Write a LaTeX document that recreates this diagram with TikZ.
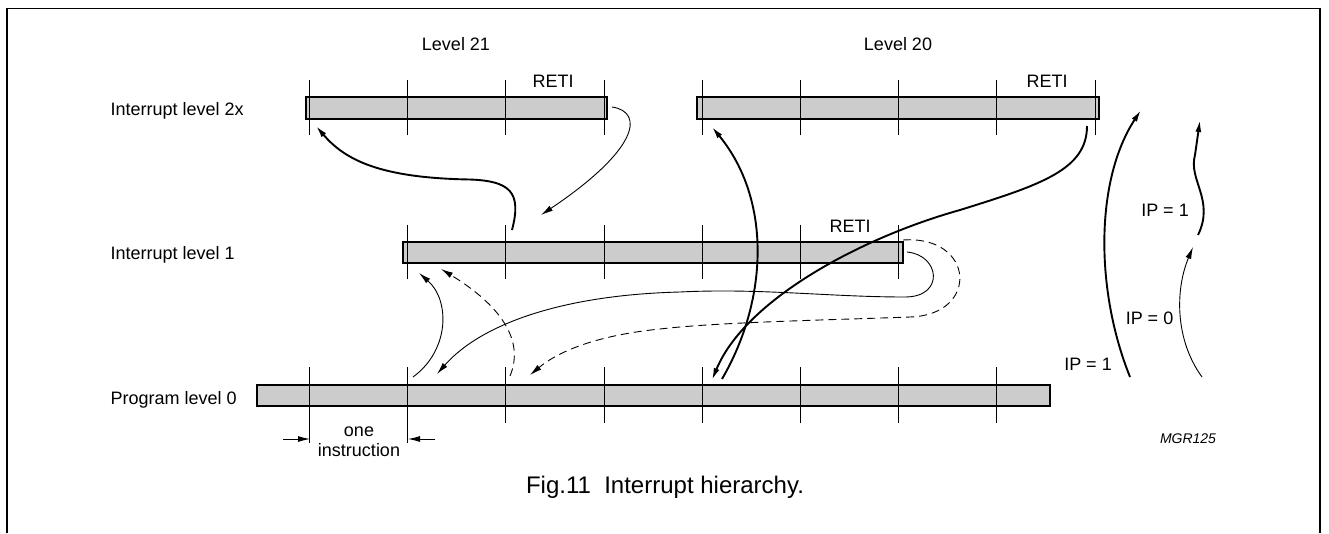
\documentclass[tikz,border=0pt]{standalone}
\usepackage{fontspec}
\setmainfont{Liberation Sans}
\usetikzlibrary{arrows.meta}

\begin{document}
\begin{tikzpicture}[>={Latex[length=12pt, width=6pt]}, x=1pt, y=-1pt,
    bar/.style={draw, line width=1.6pt, fill=black!20},
    tick/.style={line width=1.1pt},
    lbl/.style={font=\fontsize{18}{20}\selectfont, inner sep=0pt, anchor=base},
    thinarc/.style={line width=0.9pt},
    thickarc/.style={line width=1.9pt},
    dasharc/.style={line width=0.9pt, dash pattern=on 8pt off 5pt}]
    \useasboundingbox (0,0) rectangle (1329,533);

    % Khung
    \draw[line width=1.4pt] (7,533) -- (7,8.5) -- (1320,8.5) -- (1320,533);

    % Các thanh lệnh
    \draw[bar] (306,97) rectangle (607,119);
    \draw[bar] (697,97) rectangle (1099,119);
    \draw[bar] (403,242) rectangle (903,263);
    \draw[bar] (257,385) rectangle (1050,406);

    % Vạch chia lệnh
    \foreach \i in {0,...,8} \draw[tick] ({309.5+98.2*\i},80) -- ++(0,55);
    \foreach \i in {1,...,6} \draw[tick] ({309.5+98.2*\i},225) -- ++(0,54);
    \foreach \i in {2,...,7} \draw[tick] ({309.5+98.2*\i},367) -- ++(0,56);
    \foreach \i in {0,1} \draw[tick] ({309.5+98.2*\i},367) -- ++(0,76);

    % Nhãn
    \node[lbl, anchor=base west] (lv2x) at (110.5,115.5) {Interrupt level 2x};
    \node[lbl, anchor=base west] (lv1) at (110.5,259.5) {Interrupt level 1};
    \node[lbl, anchor=base west] (lv0) at (110.5,404) {Program level 0};
    \node[lbl] (l21) at (456,50) {Level 21};
    \node[lbl] (l20) at (898,50) {Level 20};
    \node[lbl] (reti21) at (553,87) {RETI};
    \node[lbl] (reti20) at (1047,87) {RETI};
    \node[lbl] (reti1) at (850,232.5) {RETI};
    \node[lbl] (ipa) at (1088,370) {IP = 1};
    \node[lbl] (ipb) at (1149.5,324) {IP = 0};
    \node[lbl] (ipc) at (1165,216.5) {IP = 1};
    \node[lbl] (one) at (359,436.5) {one};
    \node[lbl] (instr) at (359,456.5) {instruction};
    \node[lbl, font=\fontsize{14}{16}\selectfont\itshape] (mgr) at (1188,443) {MGR125};
    \node[lbl, font=\fontsize{24}{27}\selectfont] (cap) at (665,493) {Fig.11\ \ Interrupt hierarchy.};

    % Điểm đầu, điểm cuối các mũi tên
    \coordinate (a0) at (512,230);   \coordinate (a1) at (316,126);
    \coordinate (b0) at (612,107);   \coordinate (b1) at (541,215);
    \coordinate (c0) at (1087,126);  \coordinate (c1) at (712,380);
    \coordinate (d0) at (722,379);   \coordinate (d1) at (712,127);
    \coordinate (e0) at (413,377);   \coordinate (e1) at (419,273);
    \coordinate (f0) at (510,376);   \coordinate (f1) at (441,269);
    \coordinate (g0) at (907,252);   \coordinate (g1) at (437,374);
    \coordinate (h0) at (903,240);   \coordinate (h1) at (530,375);
    \coordinate (i0) at (1130,377);  \coordinate (i1) at (1141,110);
    \coordinate (j0) at (1202,377);  \coordinate (j1) at (1193,247);
    \coordinate (k0) at (1198,235);  \coordinate (k1) at (1200,120);
    \coordinate (m0) at (283,439);   \coordinate (m1) at (310,439);
    \coordinate (n0) at (435,439);   \coordinate (n1) at (408,439);

    % Mức ngắt 2x
    \draw[thickarc, ->] (a0) .. controls (522,192) and (510,181) .. (470,179.5)
        .. controls (380,178) and (345,160) .. (a1);
    \draw[thinarc, ->] (b0) .. controls (645,112) and (638,150) .. (b1);
    \draw[thickarc, ->] (c0) .. controls (1087,170) and (1040,185) .. (960,210)
        .. controls (860,238) and (745,300) .. (c1);
    \draw[thickarc, ->] (d0) .. controls (768,300) and (772,200) .. (d1);

    % Mức ngắt 1
    \draw[thinarc, ->] (e0) .. controls (450,350) and (450,300) .. (e1);
    \draw[dasharc, ->] (f0) .. controls (525,340) and (500,305) .. (f1);
    \draw[thinarc, ->] (g0) .. controls (940,255) and (945,297) .. (905,297)
        .. controls (830,297) and (760,288) .. (680,292)
        .. controls (560,295) and (480,325) .. (g1);
    \draw[dasharc, ->] (h0) .. controls (975,235) and (980,315) .. (910,317)
        .. controls (830,320) and (720,322) .. (660,329)
        .. controls (600,335) and (560,350) .. (h1);

    % Bên phải
    \draw[thickarc, ->] (i0) .. controls (1095,290) and (1095,180) .. (i1);
    \draw[thinarc, ->] (j0) .. controls (1175,340) and (1175,290) .. (j1);
    \draw[thickarc, ->] (k0) .. controls (1215,200) and (1188,180) .. (1195,155) -- (k1);

    % Một lệnh
    \draw[thinarc, ->] (m0) -- (m1);
    \draw[thinarc, ->] (n0) -- (n1);
\end{tikzpicture}
\end{document}
